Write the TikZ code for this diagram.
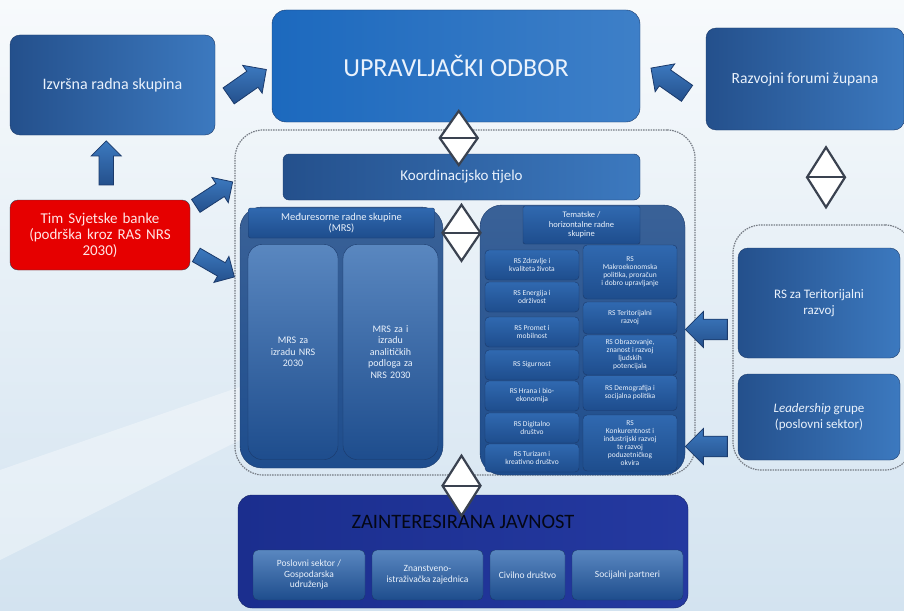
\documentclass[tikz,border=0pt]{standalone}
\usepackage{fontspec}
\setmainfont{Carlito}
\usepackage{tikz}
\usetikzlibrary{shapes.arrows,calc}

\definecolor{boxdark}{HTML}{24508C}
\definecolor{boxlight}{HTML}{3C79BF}
\definecolor{boxedge}{HTML}{1B3A6B}
\definecolor{uoblue}{HTML}{1C69BE}
\definecolor{itemtop}{HTML}{3069B0}
\definecolor{itembot}{HTML}{1E4D8D}
\definecolor{navy}{HTML}{1B2E8E}
\definecolor{navylight}{HTML}{2439A0}
\definecolor{boxtext}{HTML}{EAF2FC}
\definecolor{redbox}{HTML}{E60000}
\definecolor{dkline}{HTML}{3A4250}
\definecolor{bgtop}{HTML}{F7FAFC}
\definecolor{bgbot}{HTML}{D3E3F0}

\tikzset{
  box/.style={draw=boxedge, rounded corners=10pt, left color=boxdark, right color=boxlight,
    text=boxtext, align=center, inner sep=2pt},
  item/.style={draw=boxedge, rounded corners=4pt, top color=itemtop, bottom color=itembot,
    text=boxtext, align=center, inner sep=1pt, font=\fontsize{7.5}{8}\selectfont},
  subitem/.style={draw=boxedge, rounded corners=5pt, top color=itemtop!80!white, bottom color=itembot,
    text=boxtext, align=center, inner sep=1pt, font=\fontsize{9.5}{10.5}\selectfont},
  frame/.style={draw=dkline!70, dashed, dash pattern=on 1.5pt off 1pt, line width=1.2pt, rounded corners=28pt},
  fatarrow/.style={shape=single arrow, draw=boxedge, thick, top color=boxlight, bottom color=boxdark,
    single arrow head extend=7pt, single arrow tip angle=90, inner xsep=0pt, inner ysep=9pt},
  updown/.pic={
    \draw[dkline, line width=2.2pt, fill=white] (0,-#1) -- (19,0) -- (0,#1) -- (-19,0) -- cycle;
    \draw[dkline, line width=2.2pt] (-19,0) -- (19,0);
  },
}

\begin{document}
\begin{tikzpicture}[x=1pt, y=-1pt]
  \useasboundingbox (0,0) rectangle (904,610);
  \fill[top color=bgtop, bottom color=bgbot] (0,0) rectangle (904,610);
  \fill[white, opacity=0.35] (0,470) -- (260,380) -- (260,430) -- (0,560) -- cycle;

  % top row
  \node[box, minimum width=205pt, minimum height=100pt, font=\fontsize{16}{19}\selectfont] (izvrsna) at (112.5,85) {Izvršna radna skupina};
  \node[box, draw=boxedge, left color=uoblue, right color=uoblue!85!white, minimum width=368pt, minimum height=112pt,
    rounded corners=14pt, font=\fontsize{26}{29}\selectfont] (uo) at (456,66) {UPRAVLJAČKI ODBOR};
  \node[box, minimum width=198pt, minimum height=102pt, font=\fontsize{15.5}{18}\selectfont] (razvoj) at (805,79) {Razvojni forumi župana};

  % dashed frames
  \node[frame, minimum width=460pt, minimum height=345pt] (core) at (465,302.5) {};
  \node[frame, minimum width=180pt, minimum height=245pt] (side) at (823,347.5) {};

  \node[box, minimum width=357pt, minimum height=46pt, rounded corners=6pt, font=\fontsize{15}{18}\selectfont] (koord) at (461.5,177) {Koordinacijsko tijelo};
  \node[box, draw=dkline, left color=redbox, right color=redbox, rounded corners=8pt, text=white!90!red,
    minimum width=180pt, minimum height=70pt, text width=176pt, font=\fontsize{15}{16}\selectfont] (tim) at (100,235)
    {Tim Svjetske banke\\(podrška kroz RAS NRS\\2030)};

  % MRS group
  \node[box, top color=boxdark!90!white, bottom color=itembot, rounded corners=22pt, minimum width=203pt, minimum height=261pt] (mrs) at (341.5,337.5) {};
  \node[item, rounded corners=2pt, minimum width=186pt, minimum height=30pt, font=\fontsize{10.5}{11.5}\selectfont] (mrshead) at (341.5,223)
    {Međuresorne radne skupine\\(MRS)};
  \node[subitem, rounded corners=14pt, minimum width=90pt, minimum height=215pt, text width=70pt, font=\fontsize{10}{11.5}\selectfont] (mrs1) at (293,352)
    {MRS za\\izradu NRS\\2030};
  \node[subitem, rounded corners=14pt, minimum width=95pt, minimum height=215pt, text width=75pt, font=\fontsize{10}{11.5}\selectfont] (mrs2) at (390.5,352)
    {MRS za i\\izradu\\analitičkih\\podloga za\\NRS 2030};

  % thematic group
  \node[box, top color=boxdark!90!white, bottom color=itembot, rounded corners=22pt, minimum width=205pt, minimum height=270pt] (tem) at (582.5,340) {};
  \node[item, rounded corners=2pt, minimum width=117pt, minimum height=38pt, font=\fontsize{8.5}{9.5}\selectfont] (temhead) at (581.5,225)
    {Tematske /\\horizontalne radne\\skupine};
  \node[item, minimum width=94pt, minimum height=30pt] (z1) at (532,265) {RS Zdravlje i\\kvaliteta života};
  \node[item, minimum width=94pt, minimum height=30pt] (z2) at (532,297) {RS Energija i\\održivost};
  \node[item, minimum width=94pt, minimum height=30pt] (z3) at (532,332) {RS Promet i\\mobilnost};
  \node[item, minimum width=94pt, minimum height=30pt] (z4) at (532,365) {RS Sigurnost};
  \node[item, minimum width=94pt, minimum height=30pt] (z5) at (532,396) {RS Hrana i bio-\\ekonomija};
  \node[item, minimum width=94pt, minimum height=30pt] (z6) at (532,428) {RS Digitalno\\društvo};
  \node[item, minimum width=94pt, minimum height=28pt] (z7) at (532,458) {RS Turizam i\\kreativno društvo};
  \node[item, minimum width=94pt, minimum height=54pt] (d1) at (630,272) {RS\\Makroekonomska\\politika, proračun\\i dobro upravljanje};
  \node[item, minimum width=94pt, minimum height=32pt] (d2) at (630,318) {RS Teritorijalni\\razvoj};
  \node[item, minimum width=94pt, minimum height=40pt] (d3) at (630,355) {RS Obrazovanje,\\znanost i razvoj\\ljudskih\\potencijala};
  \node[item, minimum width=94pt, minimum height=35pt] (d4) at (630,393) {RS Demografija i\\socijalna politika};
  \node[item, minimum width=94pt, minimum height=56pt] (d5) at (630,443) {RS\\Konkurentnost i\\industrijski razvoj\\te razvoj\\poduzetničkog\\okvira};

  % stakeholders
  \node[box, left color=navy, right color=navylight, draw=navy!70!black, rounded corners=14pt, minimum width=450pt, minimum height=113pt] (zj) at (463,551.5) {};
  \node[text=black!85!navy, font=\fontsize{20.5}{23}\selectfont] (zjtitle) at (463,522) {ZAINTERESIRANA JAVNOST};
  \node[subitem, minimum width=112pt, minimum height=50pt] (p1) at (309,575) {Poslovni sektor /\\Gospodarska\\udruženja};
  \node[subitem, minimum width=111pt, minimum height=50pt] (p2) at (427.5,575) {Znanstveno-\\istraživačka zajednica};
  \node[subitem, minimum width=75pt, minimum height=50pt] (p3) at (527.5,575) {Civilno društvo};
  \node[subitem, minimum width=111pt, minimum height=50pt] (p4) at (627.5,575) {Socijalni partneri};

  % right side groups
  \node[box, minimum width=162pt, minimum height=110pt, font=\fontsize{13}{15.5}\selectfont] (rst) at (819,303) {RS za Teritorijalni\\razvoj};
  \node[box, minimum width=162pt, minimum height=86pt, font=\fontsize{13}{15.5}\selectfont] (lead) at (819,417) {\textit{Leadership} grupe\\(poslovni sektor)};

  % block arrows
  \node[fatarrow, rotate=35, minimum height=46pt, minimum width=34pt] (a1) at ($(izvrsna.east)!0.5!(uo.west)+(0,10)$) {};
  \node[fatarrow, rotate=145, minimum height=44pt, minimum width=34pt] (a2) at ($(razvoj.west)!0.5!(uo.east)+(0,11)$) {};
  \node[fatarrow, rotate=90, minimum height=44pt, minimum width=30pt, inner ysep=6pt] (a3) at ($(tim.north)!0.5!(izvrsna.south)+(0,-1)$) {};
  \node[fatarrow, rotate=33, minimum height=44pt, minimum width=30pt, inner ysep=7pt] (a4) at (211,196) {};
  \node[fatarrow, rotate=-30, minimum height=44pt, minimum width=30pt, inner ysep=7pt] (a5) at (212,264) {};
  \node[fatarrow, rotate=180, minimum height=42pt, minimum width=36pt] (a6) at ($(rst.west)!0.5!(tem.east)+(0,8)$) {};
  \node[fatarrow, rotate=180, minimum height=42pt, minimum width=36pt] (a7) at ($(lead.west)!0.5!(tem.east)+(0,68)$) {};

  % two-way links
  \pic at ($(uo.south)!0.5!(koord.north)$) {updown=27};
  \pic at ($(mrs.north east)!0.5!(tem.north west)+(0,27)$) {updown=28};
  \pic at ($(mrs.south east)!0.5!(tem.south west)+(0,14)$) {updown=30};
  \pic at ($(razvoj.south)!0.5!(side.north)+(12,0)$) {updown=30};
\end{tikzpicture}
\end{document}
